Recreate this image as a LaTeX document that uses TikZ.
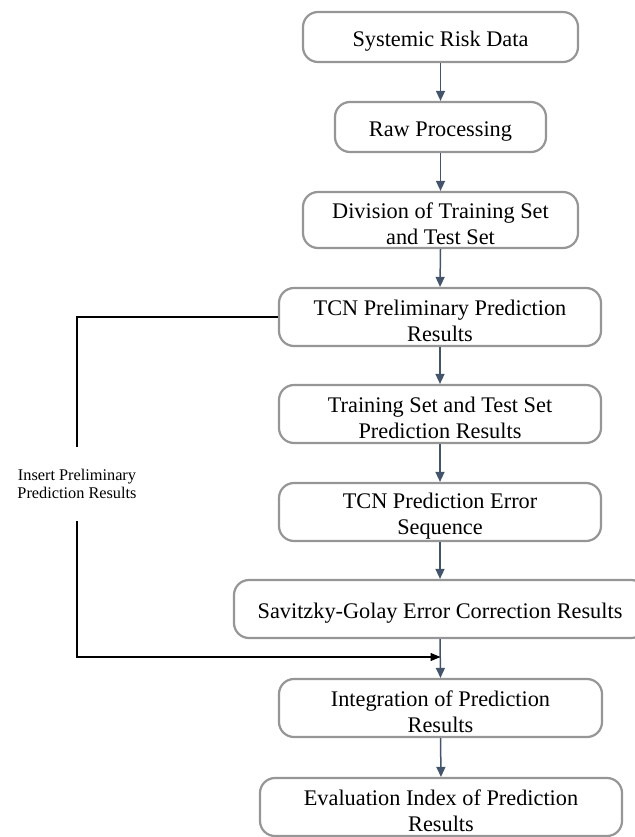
\documentclass[tikz,border=0pt]{standalone}
\usepackage{fontspec}
\setmainfont{Liberation Serif}
\usetikzlibrary{arrows.meta,calc}
\definecolor{boxgray}{RGB}{150,150,150}
\definecolor{flowblue}{RGB}{68,84,106}
\tikzset{
  stepbox/.style={draw=boxgray, line width=2.2pt, rounded corners=15pt,
    fill=white, align=center, inner sep=0pt, font=\fontsize{22.3}{26.5}\selectfont,
    minimum height=58pt, text height=24pt},
  % two-line captions: extra text height sets them a little low in the box
  twoline/.style={text height=50pt},
  flow/.style={draw=flowblue, line width=1.5pt,
    -{Triangle[length=10pt,width=9pt]}},
  feed/.style={draw=black, line width=1.3pt},
}
\begin{document}
\begin{tikzpicture}[x=1pt,y=-1pt]
\useasboundingbox (0,0) rectangle (634,837);
% main chain of processing steps
\node[stepbox, minimum width=275pt, minimum height=50pt] (b1) at (440.5,37) {Systemic Risk Data};
\node[stepbox, minimum width=211pt, minimum height=50pt] (b2) at (440.5,127) {Raw Processing};
\node[stepbox, twoline, minimum width=275pt, minimum height=56pt] (b3) at (440.5,220) {Division of Training Set\\and Test Set};
\node[stepbox, twoline, minimum width=322pt] (b4) at (440,317) {TCN Preliminary Prediction\\Results};
\node[stepbox, twoline, minimum width=322pt] (b5) at (440,414) {Training Set and Test Set\\Prediction Results};
\node[stepbox, twoline, minimum width=322pt] (b6) at (440,512) {TCN Prediction Error\\Sequence};
\node[stepbox, minimum width=412pt] (b7) at (440,609) {Savitzky-Golay Error Correction Results};
\node[stepbox, twoline, minimum width=323pt] (b8) at (440.5,708) {Integration of Prediction\\Results};
\node[stepbox, twoline, minimum width=362pt] (b9) at (441,807) {Evaluation Index of Prediction\\Results};
% vertical flow arrows
\draw[flow] (b1.south) -- (b2.north);
\draw[flow] (b2.south) -- (b3.north);
\draw[flow] (b3.south) -- (b4.north);
\draw[flow] (b4.south) -- (b5.north);
\draw[flow] (b5.south) -- (b6.north);
\draw[flow] (b6.south) -- (b7.north);
\draw[flow] (b7.south) -- (b8.north);
\draw[flow] (b8.south) -- (b9.north);
% feed-forward of the preliminary results
\node[align=center, inner sep=0pt, minimum height=74pt, font=\fontsize{16.3}{17.5}\selectfont] (lab) at (77,484)
  {Insert Preliminary\\Prediction Results};
\coordinate (join) at (440.5,657);
\draw[feed] (b4.west) -- (b4.west -| lab.north) -- (lab.north);
\draw[feed, -{Triangle[length=10pt,width=8pt]}] (lab.south) -- (lab.south |- join) -- (join);
\end{tikzpicture}
\end{document}
